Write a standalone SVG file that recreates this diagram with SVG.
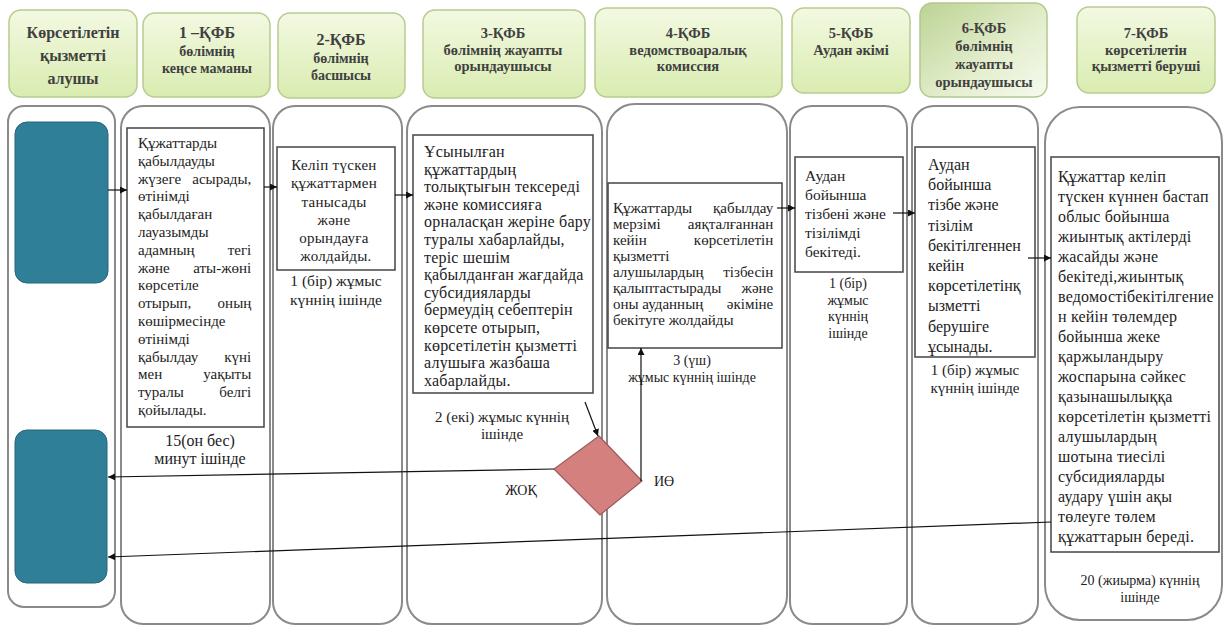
<svg xmlns="http://www.w3.org/2000/svg" width="1228" height="629" viewBox="0 0 1228 629">
<defs>
<linearGradient id="hg" x1="0" y1="0" x2="0" y2="1">
<stop offset="0" stop-color="#f3f9e2"/>
<stop offset="1" stop-color="#d9ecb0"/>
</linearGradient>
<linearGradient id="hg2" x1="0" y1="0" x2="1" y2="1">
<stop offset="0" stop-color="#bcd393"/>
<stop offset="0.6" stop-color="#e4efcf"/>
<stop offset="1" stop-color="#f6faee"/>
</linearGradient>
<marker id="ah" viewBox="0 0 10 10" refX="10" refY="5" markerWidth="7" markerHeight="7" orient="auto" markerUnits="userSpaceOnUse">
<path d="M0,0 L10,5 L0,10 z" fill="#111"/>
</marker>
</defs>
<style>
.hdr{fill:url(#hg);stroke:#b6cc8e;stroke-width:1.5}
.ht{font-family:"Liberation Serif",serif;font-size:14.5px;font-weight:bold;fill:#404040;text-anchor:middle}
.hb{font-size:16px}
.hs{font-size:14px}
.lane{fill:#fff;stroke:#8a8a8a;stroke-width:2}
.box{fill:#fff;stroke:#444;stroke-width:1.5}
.teal{fill:#2f7f98;stroke:#2a6478;stroke-width:1}
.t{font-family:"Liberation Serif",serif;font-size:14px;fill:#222}
.f15{font-size:15px}
.f155{font-size:15.5px}
.f16{font-size:16px}
.ls2{letter-spacing:0.2px}
.ls3{letter-spacing:0.3px}
.c{text-anchor:middle}
.e{text-anchor:end}
.cn{fill:none;stroke:#111;stroke-width:1.2}
</style>
<rect width="1228" height="629" fill="#fff"/>

<g id="headers">
<g id="h1"><rect class="hdr" x="9" y="10" width="128" height="87" rx="12"/>
<text class="ht hb"><tspan x="73" y="38">Көрсетілетін</tspan><tspan x="73" y="61">қызметті</tspan><tspan x="73" y="84">алушы</tspan></text></g>
<g id="h2"><rect class="hdr" x="143" y="13" width="127" height="84" rx="12"/>
<text class="ht hs"><tspan class="hb" x="207" y="38">1 –ҚФБ</tspan><tspan x="207" y="56">бөлімнің</tspan><tspan x="207" y="73">кеңсе маманы</tspan></text></g>
<g id="h3"><rect class="hdr" x="278" y="13" width="127" height="85" rx="12"/>
<text class="ht hs"><tspan class="hb" x="341" y="45">2-ҚФБ</tspan><tspan x="341" y="63">бөлімнің</tspan><tspan x="341" y="80">басшысы</tspan></text></g>
<g id="h4"><rect class="hdr" x="423" y="10" width="162" height="88" rx="12"/>
<text class="ht"><tspan x="503" y="38">3-ҚФБ</tspan><tspan x="503" y="55">бөлімнің жауапты</tspan><tspan x="503" y="71">орындаушысы</tspan></text></g>
<g id="h5"><rect class="hdr" x="595" y="8" width="187" height="89" rx="12"/>
<text class="ht"><tspan x="688" y="38">4-ҚФБ</tspan><tspan x="688" y="55">ведомствоаралық</tspan><tspan x="688" y="71">комиссия</tspan></text></g>
<g id="h6"><rect class="hdr" x="792" y="8" width="118" height="85" rx="12"/>
<text class="ht"><tspan x="851" y="38">5-ҚФБ</tspan><tspan x="851" y="55">Аудан әкімі</tspan></text></g>
<g id="h7"><rect x="920" y="3" width="127" height="94" rx="12" fill="url(#hg2)" stroke="#b3c78e" stroke-width="1.5"/>
<text class="ht"><tspan x="984" y="33">6-ҚФБ</tspan><tspan x="984" y="51">бөлімнің</tspan><tspan x="984" y="69">жауапты</tspan><tspan x="984" y="87">орындаушысы</tspan></text></g>
<g id="h8"><rect class="hdr" x="1077" y="7" width="138" height="86" rx="12"/>
<text class="ht"><tspan x="1146" y="38">7-ҚФБ</tspan><tspan x="1146" y="55">көрсетілетін</tspan><tspan x="1146" y="71">қызметті беруші</tspan></text></g>
</g>

<g id="lanes">
<rect class="lane" x="8" y="106" width="107" height="501" rx="16"/>
<rect class="lane" x="121" y="106" width="149" height="518" rx="22"/>
<rect class="lane" x="273" y="106" width="129" height="518" rx="22"/>
<rect class="lane" x="407" y="106" width="195" height="518" rx="25"/>
<rect class="lane" x="607" y="104" width="180" height="520" rx="28"/>
<rect class="lane" x="790" y="106" width="117" height="518" rx="22"/>
<rect class="lane" x="912" y="106" width="126" height="518" rx="22"/>
<rect class="lane" x="1045" y="107" width="177" height="513" rx="35"/>
</g>

<g id="n-teal1"><rect class="teal" x="15" y="122" width="93" height="161" rx="12"/></g>
<g id="n-teal2"><rect class="teal" x="15" y="430" width="92" height="153" rx="12"/></g>

<g id="n1">
<rect class="box" x="127" y="128" width="137" height="299"/>
<text class="t f15">
<tspan x="138" y="148">Құжаттарды</tspan>
<tspan x="138" y="165.8">қабылдауды</tspan>
<tspan x="138" y="183.6">жүзеге</tspan><tspan class="e" x="255" y="183.6">асырады,</tspan>
<tspan x="138" y="201.4">өтінімді</tspan>
<tspan x="138" y="219.2">қабылдаған</tspan>
<tspan x="138" y="237">лауазымды</tspan>
<tspan x="138" y="254.8">адамның</tspan><tspan class="e" x="255" y="254.8">тегі</tspan>
<tspan x="138" y="272.6">және</tspan><tspan class="e" x="255" y="272.6">аты-жөні</tspan>
<tspan x="138" y="290.4">көрсетіле</tspan>
<tspan x="138" y="308.2">отырып,</tspan><tspan class="e" x="255" y="308.2">оның</tspan>
<tspan x="138" y="326">көшірмесінде</tspan>
<tspan x="138" y="343.8">өтінімді</tspan>
<tspan x="138" y="361.6">қабылдау</tspan><tspan class="e" x="255" y="361.6">күні</tspan>
<tspan x="138" y="379.4">мен</tspan><tspan class="e" x="255" y="379.4">уақыты</tspan>
<tspan x="138" y="397.2">туралы</tspan><tspan class="e" x="255" y="397.2">белгі</tspan>
<tspan x="138" y="415">қойылады.</tspan>
</text>
<text class="t f16 c"><tspan x="200" y="446">15(он бес)</tspan><tspan x="200" y="464">минут ішінде</tspan></text>
</g>

<g id="n2">
<rect class="box" x="277" y="147" width="118" height="123"/>
<text class="t f15 ls3 c">
<tspan x="336" y="170">Келіп түскен</tspan>
<tspan x="336" y="188">құжаттармен</tspan>
<tspan x="336" y="207">танысады</tspan>
<tspan x="336" y="225">және</tspan>
<tspan x="336" y="243">орындауға</tspan>
<tspan x="336" y="261">жолдайды.</tspan>
</text>
<text class="t f155 c"><tspan x="336" y="286">1 (бір) жұмыс</tspan><tspan x="336" y="305">күннің ішінде</tspan></text>
</g>

<g id="n3">
<rect class="box" x="413" y="135" width="180" height="258"/>
<text class="t f16 ls2">
<tspan x="424" y="157">Ұсынылған</tspan>
<tspan x="424" y="174.6">құжаттардың</tspan>
<tspan x="424" y="192.2">толықтығын тексереді</tspan>
<tspan x="424" y="209.8">және комиссияға</tspan>
<tspan x="424" y="227.4">орналасқан жеріне бару</tspan>
<tspan x="424" y="245">туралы хабарлайды,</tspan>
<tspan x="424" y="262.6">теріс шешім</tspan>
<tspan x="424" y="280.2">қабылданған жағдайда</tspan>
<tspan x="424" y="297.8">субсидияларды</tspan>
<tspan x="424" y="315.4">бермеудің себептерін</tspan>
<tspan x="424" y="333">көрсете отырып,</tspan>
<tspan x="424" y="350.6">көрсетілетін қызметті</tspan>
<tspan x="424" y="368.2">алушыға жазбаша</tspan>
<tspan x="424" y="385.8">хабарлайды.</tspan>
</text>
<text class="t f15 c"><tspan x="502" y="422">2 (екі) жұмыс күннің</tspan><tspan x="502" y="439">ішінде</tspan></text>
</g>

<g id="n4">
<rect class="box" x="608" y="183" width="174" height="165"/>
<text class="t f15">
<tspan x="613" y="213">Құжаттарды</tspan><tspan class="e" x="777" y="213">қабылдау</tspan>
<tspan x="613" y="229">мерзімі</tspan><tspan class="e" x="777" y="229">аяқталғаннан</tspan>
<tspan x="613" y="245">кейін</tspan><tspan class="e" x="777" y="245">көрсетілетін</tspan>
<tspan x="613" y="261">қызметті</tspan>
<tspan x="613" y="277">алушылардың</tspan><tspan class="e" x="777" y="277">тізбесін</tspan>
<tspan x="613" y="293">қалыптастырады</tspan><tspan class="e" x="777" y="293">және</tspan>
<tspan x="613" y="309">оны ауданның</tspan><tspan class="e" x="777" y="309">әкіміне</tspan>
<tspan x="613" y="325">бекітуге жолдайды</tspan>
</text>
<text class="t c"><tspan x="692" y="365">3 (үш)</tspan><tspan x="692" y="382">жұмыс күннің ішінде</tspan></text>
</g>

<g id="n5">
<rect class="box" x="795" y="157" width="108" height="115"/>
<text class="t f155">
<tspan x="805" y="181">Аудан</tspan>
<tspan x="805" y="200">бойынша</tspan>
<tspan x="805" y="219">тізбені және</tspan>
<tspan x="805" y="238">тізілімді</tspan>
<tspan x="805" y="257">бекітеді.</tspan>
</text>
<text class="t c"><tspan x="848" y="288">1 (бір)</tspan><tspan x="848" y="305">жұмыс</tspan><tspan x="848" y="321">күннің</tspan><tspan x="848" y="338">ішінде</tspan></text>
</g>

<g id="n6">
<rect class="box" x="915" y="147" width="120" height="210"/>
<text class="t f16">
<tspan x="928" y="170">Аудан</tspan>
<tspan x="928" y="190.2">бойынша</tspan>
<tspan x="928" y="210.4">тізбе және</tspan>
<tspan x="928" y="230.6">тізілім</tspan>
<tspan x="928" y="250.8">бекітілгеннен</tspan>
<tspan x="928" y="271">кейін</tspan>
<tspan x="928" y="291.2">көрсетілетінқ</tspan>
<tspan x="928" y="311.4">ызметті</tspan>
<tspan x="928" y="331.6">берушіге</tspan>
<tspan x="928" y="351.8">ұсынады.</tspan>
</text>
<text class="t f15 c"><tspan x="975" y="375">1 (бір) жұмыс</tspan><tspan x="975" y="393">күннің ішінде</tspan></text>
</g>

<g id="n7">
<rect class="box" x="1051" y="157" width="168" height="395"/>
<text class="t f16 ls2">
<tspan x="1058" y="182">Құжаттар келіп</tspan>
<tspan x="1058" y="202">түскен күннен бастап</tspan>
<tspan x="1058" y="222">облыс бойынша</tspan>
<tspan x="1058" y="242">жиынтық актілерді</tspan>
<tspan x="1058" y="262">жасайды және</tspan>
<tspan x="1058" y="282">бекітеді,жиынтық</tspan>
<tspan x="1058" y="302">ведомостібекітілгение</tspan>
<tspan x="1058" y="322">н кейін төлемдер</tspan>
<tspan x="1058" y="342">бойынша жеке</tspan>
<tspan x="1058" y="362">қаржыландыру</tspan>
<tspan x="1058" y="382">жоспарына сәйкес</tspan>
<tspan x="1058" y="402">қазынашылыққа</tspan>
<tspan x="1058" y="422">көрсетілетін қызметті</tspan>
<tspan x="1058" y="442">алушылардың</tspan>
<tspan x="1058" y="462">шотына тиесілі</tspan>
<tspan x="1058" y="482">субсидияларды</tspan>
<tspan x="1058" y="502">аудару үшін ақы</tspan>
<tspan x="1058" y="522">төлеуге төлем</tspan>
<tspan x="1058" y="542">құжаттарын береді.</tspan>
</text>
<text class="t c"><tspan x="1140" y="585">20 (жиырма) күннің</tspan><tspan x="1140" y="602">ішінде</tspan></text>
</g>

<g id="decision">
<polygon points="599,436 642,481 600,515 554,469" fill="#d4807f" stroke="#9b5a5a" stroke-width="1.2"/>
<text class="t c" x="521" y="495">ЖОҚ</text>
<text class="t" x="654" y="486">ИӨ</text>
</g>

<g id="connectors">
<path class="cn" d="M108,190 H127" marker-end="url(#ah)"/>
<path class="cn" d="M264,187 H277" marker-end="url(#ah)"/>
<path class="cn" d="M395,195 H413" marker-end="url(#ah)"/>
<path class="cn" d="M777,208 H795" marker-end="url(#ah)"/>
<path class="cn" d="M893,213 H915" marker-end="url(#ah)"/>
<path class="cn" d="M1028,258 H1051" marker-end="url(#ah)"/>
<path class="cn" d="M585,402 L598,436" marker-end="url(#ah)"/>
<path class="cn" d="M641,481 V348" marker-end="url(#ah)"/>
<path class="cn" d="M554,469 L108,477" marker-end="url(#ah)"/>
<path class="cn" d="M1051,522 L108,557" marker-end="url(#ah)"/>
</g>
</svg>
